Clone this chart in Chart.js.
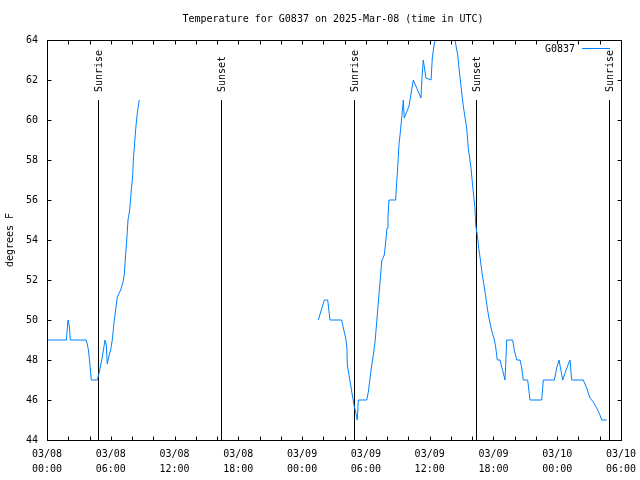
<!DOCTYPE html>
<html>
<head>
<meta charset="utf-8">
<script src="https://cdn.jsdelivr.net/npm/chart.js@4/dist/chart.umd.min.js"></script>
<style>
  html, body { margin: 0; padding: 0; background: #fff; }
</style>
</head>
<body>
<canvas id="tempchart" width="640" height="480"></canvas>
<script>
// hours since 2025-03-08 00:00 UTC, temperature in degrees F
const hours1 = [0, 1.82, 1.98, 2.1, 2.2, 3.7, 3.9, 4.05, 4.17, 4.73,
  4.9, 5.15, 5.46, 5.58, 5.67, 5.83, 5.99, 6.14, 6.3, 6.52,
  6.61, 6.93, 7.15, 7.28, 7.34, 7.5, 7.62, 7.78, 7.93, 8.06,
  8.12, 8.25, 8.37, 8.5, 8.68];
const temps1 = [49, 49, 50, 49.7, 49, 49, 48.5, 47.7, 47, 47,
  47.35, 48, 49, 48.75, 47.8, 48.2, 48.5, 49, 49.85, 50.75,
  51.15, 51.5, 51.9, 52.3, 52.85, 54, 55, 55.5, 56.5, 57.2,
  58, 58.9, 59.7, 60.35, 61];

const hours2 = [25.52, 26.09, 26.41, 26.62, 27.72, 27.88, 28.10, 28.22, 28.25, 28.41,
  28.57, 28.72, 28.88, 29.04, 29.19, 29.29, 30.08, 30.23, 30.39, 30.55,
  30.70, 30.86, 31.02, 31.17, 31.33, 31.49, 31.73, 31.86, 31.99, 32.08,
  32.17, 32.80, 32.90, 32.99, 33.11, 33.24, 33.37, 33.52, 33.61, 34.06,
  34.46, 35.18, 35.31, 35.40, 35.65, 36.13, 36.25, 36.41, 36.97, 37.72,
  38.38, 38.64, 38.76, 39.01, 39.16, 39.48, 39.63, 39.89, 40.01, 40.26,
  40.33, 40.48, 40.64, 40.80, 40.95, 41.11, 41.27, 41.42, 41.58, 41.74,
  41.89, 42.05, 42.21, 42.36, 42.62, 42.78, 43.09, 43.25, 43.81, 43.96,
  44.19, 44.50, 44.66, 44.81, 45.22, 45.44, 46.54, 46.69, 47.73, 47.95,
  48.17, 48.52, 48.83, 49.20, 49.36, 50.45, 50.77, 51.08, 51.40, 51.71,
  52.02, 52.18, 52.65];
const temps2 = [50, 51, 51, 50, 50, 49.6, 49.1, 48.6, 47.75, 47.25,
  46.75, 46.25, 45.75, 45.4, 45, 46, 46, 46.4, 47.1, 47.75,
  48.25, 48.9, 49.9, 50.9, 51.9, 52.95, 53.25, 53.9, 54.6, 55.15,
  56, 56, 56.9, 57.6, 58.75, 59.4, 60.1, 61, 60.1, 60.7,
  62, 61.1, 62.4, 63, 62.1, 62, 63.1, 63.75, 65, 65,
  64, 63.25, 62.6, 61.4, 60.7, 59.6, 58.6, 57.6, 56.9, 55.6,
  54.75, 54.25, 53.5, 52.9, 52.25, 51.75, 51.2, 50.6, 50.1, 49.7,
  49.35, 49.1, 48.65, 48, 48, 47.65, 47, 49, 49, 48.5,
  48, 48, 47.6, 47, 47, 46, 46, 47, 47, 47.6,
  48, 47, 47.5, 48, 47, 47, 46.6, 46.1, 45.9, 45.6,
  45.25, 45, 45];

const sunHours = [4.8, 16.37, 28.88, 40.36, 52.87];
const sunLabels = ['Sunrise', 'Sunset', 'Sunrise', 'Sunset', 'Sunrise'];
const sunTop = 61;

const dayLabels = ['03/08', '03/08', '03/08', '03/08', '03/09', '03/09', '03/09', '03/09', '03/10', '03/10'];
const timeLabels = ['00:00', '06:00', '12:00', '18:00', '00:00', '06:00', '12:00', '18:00', '00:00', '06:00'];

const stationName = 'G0837';
const titleText = 'Temperature for G0837 on 2025-Mar-08 (time in UTC)';
const yTitle = 'degrees F';

const mono = "'DejaVu Sans Mono', 'Liberation Mono', monospace";
const lineColor = 'rgb(0,128,255)';

function pts(xs, ys) {
  return xs.map((x, i) => ({ x: x, y: ys[i] }));
}

// frame, inward ticks, sun markers, title, legend
const gnuFrame = {
  id: 'gnuFrame',
  beforeDatasetsDraw(chart) {
    const c = chart.ctx, x = chart.scales.x, y = chart.scales.y;
    c.save();
    c.strokeStyle = '#000';
    c.lineWidth = 1;
    sunHours.forEach(h => {
      const px = Math.round(x.getPixelForValue(h)) + 0.5;
      c.beginPath();
      c.moveTo(px, y.getPixelForValue(sunTop));
      c.lineTo(px, y.bottom);
      c.stroke();
    });
    c.restore();
  },
  afterDatasetsDraw(chart) {
    const c = chart.ctx, x = chart.scales.x, y = chart.scales.y;
    const a = chart.chartArea;
    const L = Math.round(a.left) + 0.5, R = Math.round(a.right) + 0.5;
    const T = Math.round(a.top) + 0.5, B = Math.round(a.bottom) + 0.5;
    c.save();
    c.strokeStyle = '#000';
    c.lineWidth = 1;
    c.strokeRect(L, T, R - L, B - T);

    c.beginPath();
    x.ticks.forEach(t => {
      const px = Math.round(x.getPixelForValue(t.value)) + 0.5;
      c.moveTo(px, B); c.lineTo(px, B - 4);
      c.moveTo(px, T); c.lineTo(px, T + 4);
    });
    y.ticks.forEach(t => {
      const py = Math.round(y.getPixelForValue(t.value)) + 0.5;
      c.moveTo(L, py); c.lineTo(L + 4, py);
      c.moveTo(R, py); c.lineTo(R - 4, py);
    });
    c.stroke();

    c.fillStyle = '#000';
    c.font = '10px ' + mono;

    // sun labels, rotated
    sunHours.forEach((h, i) => {
      const px = Math.round(x.getPixelForValue(h)) + 1;
      c.save();
      c.translate(px, y.getPixelForValue(sunTop) - 8);
      c.rotate(-Math.PI / 2);
      c.textAlign = 'left';
      c.textBaseline = 'middle';
      c.fillText(sunLabels[i], 0, 0);
      c.restore();
    });

    // title
    c.textAlign = 'center';
    c.textBaseline = 'middle';
    c.fillText(titleText, 333, 19);

    // y axis title
    c.save();
    c.translate(10, (a.top + a.bottom) / 2);
    c.rotate(-Math.PI / 2);
    c.fillText(yTitle, 0, 0);
    c.restore();

    // key
    c.textAlign = 'right';
    c.fillText(stationName, 575, 49);
    c.strokeStyle = lineColor;
    c.beginPath();
    c.moveTo(582, 48.5);
    c.lineTo(610, 48.5);
    c.stroke();
    c.restore();
  }
};

const lineStyle = {
  borderColor: lineColor,
  borderWidth: 1,
  pointRadius: 0,
  tension: 0,
  fill: false
};

const tempChart = new Chart(document.getElementById('tempchart'), {
  type: 'line',
  data: {
    datasets: [
      Object.assign({ label: stationName, data: pts(hours1, temps1) }, lineStyle),
      Object.assign({ label: stationName, data: pts(hours2, temps2) }, lineStyle)
    ]
  },
  options: {
    responsive: false,
    animation: false,
    devicePixelRatio: 1,
    layout: { padding: { top: 40, right: 19, left: 0, bottom: 0 } },
    plugins: {
      legend: { display: false },
      title: { display: false },
      tooltip: { enabled: false }
    },
    scales: {
      x: {
        type: 'linear',
        min: 0,
        max: 54,
        grid: { display: false, drawTicks: false },
        border: { display: false },
        ticks: {
          stepSize: 2,
          autoSkip: false,
          maxRotation: 0,
          padding: 7,
          color: '#000',
          font: { family: mono, size: 10, lineHeight: 1.5 },
          callback: v => (v % 6 === 0 ? [dayLabels[v / 6], timeLabels[v / 6]] : '')
        },
        afterFit: s => {
          s.height = 40;
          s.paddingLeft = 0;
          s.paddingRight = 0;
        }
      },
      y: {
        min: 44,
        max: 64,
        grid: { display: false, drawTicks: false },
        border: { display: false },
        ticks: {
          stepSize: 2,
          padding: 9,
          color: '#000',
          font: { family: mono, size: 10 }
        },
        afterFit: s => {
          s.width = 47;
          s.paddingTop = 0;
          s.paddingBottom = 0;
        }
      }
    }
  },
  plugins: [gnuFrame]
});
</script>
</body>
</html>
